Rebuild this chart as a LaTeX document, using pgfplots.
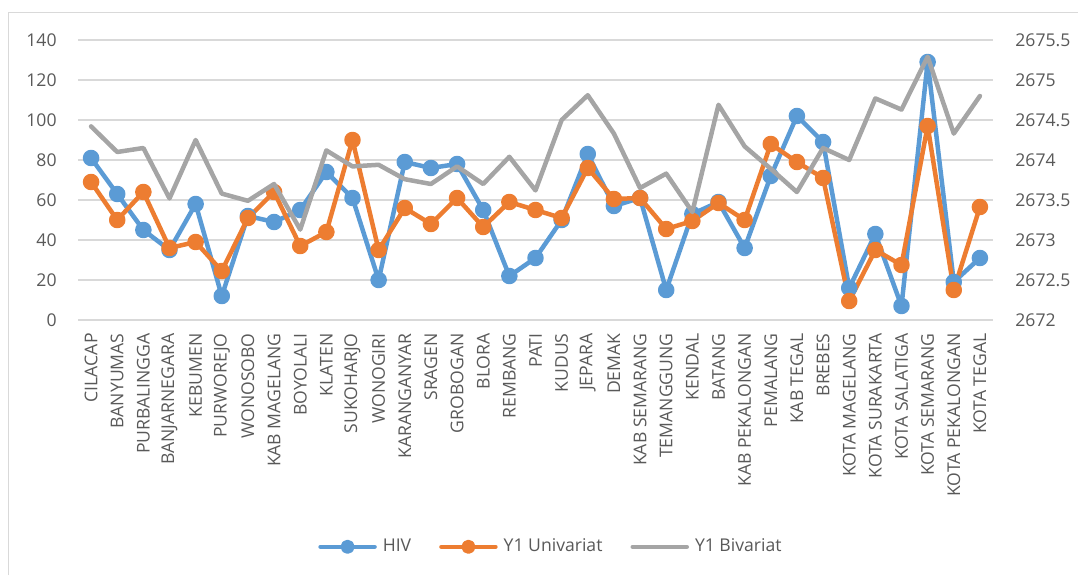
\documentclass[border=0pt]{standalone}
\usepackage{pgfplots}
\pgfplotsset{compat=1.18}
\usepackage{pgfplotstable}
\usepackage{fontspec}
\setmainfont{Open Sans}

\definecolor{hivblue}{HTML}{5B9BD5}
\definecolor{uniorange}{HTML}{ED7D31}
\definecolor{bivgray}{HTML}{A5A5A5}
\definecolor{gridgray}{HTML}{D9D9D9}
\definecolor{labelgray}{HTML}{595959}
\definecolor{framegray}{HTML}{D9D9D9}

% idx, HIV cases, univariate estimate, bivariate estimate
\pgfplotstableread{
idx hiv uni biv
0  81  69   2674.42
1  63  50   2674.10
2  45  64   2674.15
3  35  36   2673.52
4  58  39   2674.25
5  12  24.5 2673.58
6  52  51   2673.49
7  49  64   2673.70
8  55  37   2673.13
9  74  44   2674.12
10 61  90   2673.92
11 20  35   2673.94
12 79  56   2673.76
13 76  48   2673.70
14 78  61   2673.92
15 55  46.5 2673.70
16 22  59   2674.04
17 31  55   2673.62
18 50  51   2674.50
19 83  76   2674.81
20 57  60.5 2674.33
21 61  61   2673.65
22 15  45.5 2673.83
23 53  49.5 2673.35
24 59  58.5 2674.69
25 36  50   2674.17
26 72  88   2673.89
27 102 79   2673.60
28 89  71   2674.15
29 16  9.5  2674.00
30 43  35   2674.77
31 7   27.5 2674.63
32 129 97   2675.29
33 19  15   2674.33
34 31  56.5 2674.80
}\datatable

\pgfplotsset{
  common/.style={
    scale only axis,
    width=457.5pt, height=140pt,
    xmin=-0.5, xmax=34.5,
    at={(39pt,127.5pt)}, anchor=south west,
    axis line style={draw=none},
    major tick length=0pt,
    tick label style={font=\fontsize{8.8}{10}\selectfont, text=labelgray},
    /pgf/number format/assume math mode=true,
    clip=false,
  },
  serie/.style={line width=2.25pt, line join=round, line cap=round, mark=*, mark size=3pt,
    mark options={solid, fill=#1, draw=#1}, color=#1},
  legend image code/.code={%
    \draw[mark repeat=2, mark phase=2, #1, mark size=2.4pt, line cap=round]
      plot coordinates {(0pt,0pt) (13.5pt,0pt) (27pt,0pt)};},
}

\begin{document}
\begin{tikzpicture}
\useasboundingbox (0,0) rectangle (539pt,287.5pt);
\draw[framegray, line width=0.5pt] (4pt,0pt) -- (4pt,281.5pt) -- (539pt,281.5pt);

\begin{axis}[common,
  ymin=0, ymax=140, ytick={0,20,...,140},
  ymajorgrids, grid style={gridgray, line width=0.75pt},
  yticklabel style={inner sep=0pt}, yticklabel shift=10.5pt,
  xtick=data,
  xticklabels={CILACAP,BANYUMAS,PURBALINGGA,BANJARNEGARA,KEBUMEN,PURWOREJO,WONOSOBO,KAB MAGELANG,BOYOLALI,KLATEN,SUKOHARJO,WONOGIRI,KARANGANYAR,SRAGEN,GROBOGAN,BLORA,REMBANG,PATI,KUDUS,JEPARA,DEMAK,KAB SEMARANG,TEMANGGUNG,KENDAL,BATANG,KAB PEKALONGAN,PEMALANG,KAB TEGAL,BREBES,KOTA MAGELANG,KOTA SURAKARTA,KOTA SALATIGA,KOTA SEMARANG,KOTA PEKALONGAN,KOTA TEGAL},
  xticklabel style={rotate=90, anchor=east, inner sep=0pt}, xticklabel shift=6.5pt,
]
\addplot[serie=hivblue] table[x=idx, y=hiv] {\datatable};
\addplot[serie=uniorange] table[x=idx, y=uni] {\datatable};
\end{axis}

\begin{axis}[common,
  ymin=2672, ymax=2675.5,
  ytick={2672,2672.5,2673,2673.5,2674,2674.5,2675,2675.5},
  yticklabels={2672,2672.5,2673,2673.5,2674,2674.5,2675,2675.5},
  axis y line*=right, axis x line=none,
  yticklabel style={inner sep=0pt, anchor=west}, yticklabel shift=11pt,
  legend style={at={(0.518,-0.81)}, anchor=center, legend columns=3, draw=none,
    font=\fontsize{8.8}{10}\selectfont, text=labelgray, inner sep=0pt,
    /tikz/every even column/.append style={column sep=12pt},
    /tikz/every odd column/.append style={column sep=1pt}},
]
\addlegendimage{serie=hivblue}
\addlegendentry{HIV}
\addlegendimage{serie=uniorange}
\addlegendentry{Y1 Univariat}
\addplot[color=bivgray, line width=2.25pt, line join=round, line cap=round, mark=none] table[x=idx, y=biv] {\datatable};
\addlegendentry{Y1 Bivariat}
\end{axis}
\end{tikzpicture}
\end{document}
